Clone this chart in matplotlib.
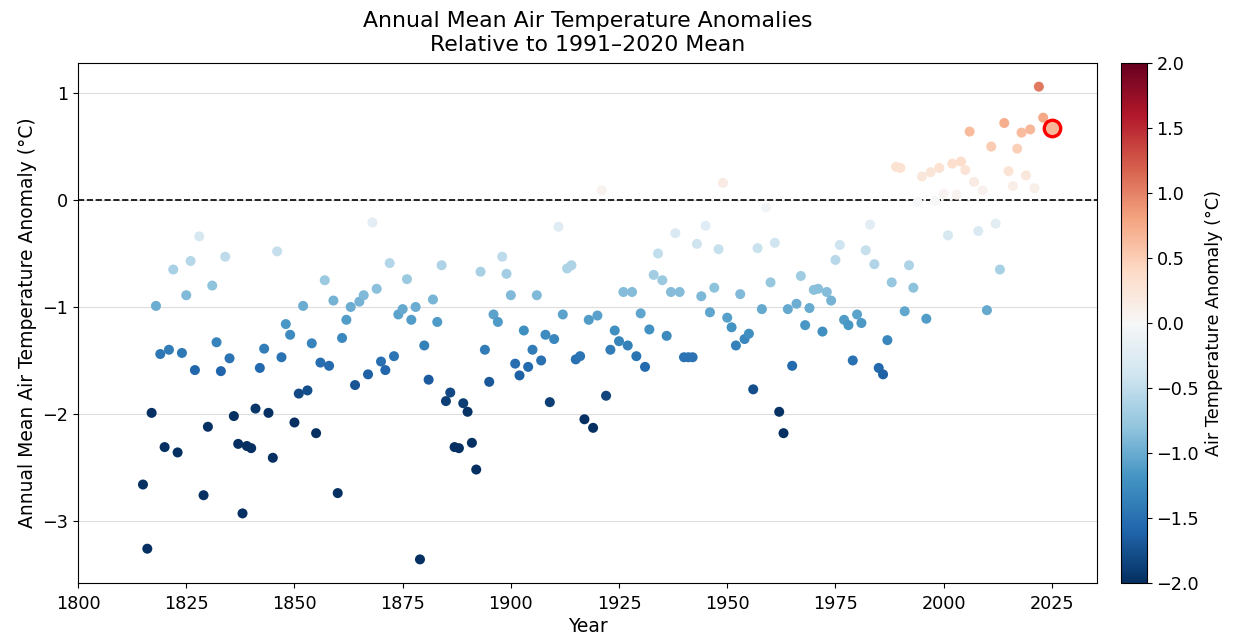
import numpy as np
import matplotlib
matplotlib.use("Agg")
import matplotlib.pyplot as plt

# annual mean anomalies (degC) relative to 1991-2020
years = list(range(1815, 2024)) + [2025]
anomalies = [
    # 1815-1849
    -2.66, -3.26, -1.99, -0.99, -1.44, -2.31, -1.40, -0.65, -2.36, -1.43,
    -0.89, -0.57, -1.59, -0.34, -2.76, -2.12, -0.80, -1.33, -1.60, -0.53,
    -1.48, -2.02, -2.28, -2.93, -2.30, -2.32, -1.95, -1.57, -1.39, -1.99,
    -2.41, -0.48, -1.47, -1.16, -1.26,
    # 1850-1888
    -2.08, -1.81, -0.99, -1.78, -1.34, -2.18, -1.52, -0.75, -1.55, -0.94,
    -2.74, -1.29, -1.12, -1.00, -1.73, -0.95, -0.89, -1.63, -0.21, -0.83,
    -1.51, -1.59, -0.59, -1.46, -1.07, -1.02, -0.74, -1.12, -1.00, -3.36,
    -1.36, -1.68, -0.93, -1.14, -0.61, -1.88, -1.80, -2.31, -2.32,
    # 1889-1925
    -1.90, -1.98, -2.27, -2.52, -0.67, -1.40, -1.70, -1.07, -1.14, -0.53,
    -0.69, -0.89, -1.53, -1.64, -1.22, -1.56, -1.40, -0.89, -1.50, -1.26,
    -1.89, -1.30, -0.25, -1.07, -0.64, -0.61, -1.49, -1.46, -2.05, -1.12,
    -2.13, -1.08, 0.09, -1.83, -1.40, -1.22, -1.32,
    # 1926-1965
    -0.86, -1.36, -0.86, -1.46, -1.06, -1.56, -1.21, -0.70, -0.50, -0.75,
    -1.27, -0.86, -0.31, -0.86, -1.47, -1.47, -1.47, -0.41, -0.90, -0.24,
    -1.05, -0.82, -0.46, 0.16, -1.10, -1.19, -1.36, -0.88, -1.30, -1.25,
    -1.77, -0.45, -1.02, -0.07, -0.77, -0.40, -1.98, -2.18, -1.02, -1.55,
    # 1966-2003
    -0.97, -0.71, -1.17, -1.01, -0.84, -0.83, -1.23, -0.86, -0.94, -0.56,
    -0.42, -1.12, -1.17, -1.50, -1.07, -1.15, -0.47, -0.23, -0.60, -1.57,
    -1.63, -1.31, -0.77, 0.31, 0.30, -1.04, -0.61, -0.82, -0.02, 0.22,
    -1.11, 0.26, -0.01, 0.30, 0.06, -0.33, 0.34, 0.05,
    # 2004-2023, 2025
    0.36, 0.28, 0.64, 0.17, -0.29, 0.09, -1.03, 0.50, -0.22, -0.65,
    0.72, 0.27, 0.13, 0.48, 0.63, 0.23, 0.66, 0.11, 1.06, 0.77,
    0.67,
]

years = np.array(years)
anomalies = np.array(anomalies)

fig = plt.figure(figsize=(12.41, 6.39), dpi=100)
ax = fig.add_axes([0.0629, 0.0876, 0.8213, 0.8138])
cax = fig.add_axes([0.9035, 0.0876, 0.0205, 0.8138])

norm = plt.Normalize(vmin=-2.0, vmax=2.0)
sc = ax.scatter(years, anomalies, c=anomalies, cmap="RdBu_r", norm=norm,
                s=52, zorder=3, edgecolors="none")

# highlight most recent year
ax.scatter(years[-1:], anomalies[-1:], c=anomalies[-1:], cmap="RdBu_r", norm=norm,
           s=140, edgecolors="red", linewidths=2.4, zorder=4)

ax.axhline(0, color="black", linestyle="--", linewidth=1.2, zorder=2)
ax.yaxis.grid(True, color="#dddddd", linewidth=0.8, zorder=0)
ax.set_axisbelow(True)

ax.set_xlim(1800, 2035.5)
ax.set_xticks([1800, 1825, 1850, 1875, 1900, 1925, 1950, 1975, 2000, 2025])
ax.set_yticks([-3, -2, -1, 0, 1])
ax.tick_params(labelsize=12.7)
ax.tick_params(axis="x", pad=5)

ax.set_xlabel("Year", fontsize=13.5, labelpad=3)
ax.set_ylabel("Annual Mean Air Temperature Anomaly (°C)", fontsize=13.5)
ax.set_title("Annual Mean Air Temperature Anomalies\nRelative to 1991\u20132020 Mean",
             fontsize=15.8, pad=9)

cb = fig.colorbar(sc, cax=cax)
cb.set_ticks(np.arange(-2.0, 2.01, 0.5))
cb.ax.tick_params(labelsize=12.7)
cb.set_label("Air Temperature Anomaly (°C)", fontsize=12.7)

fig.savefig("out.png", dpi=100)
plt.close(fig)
